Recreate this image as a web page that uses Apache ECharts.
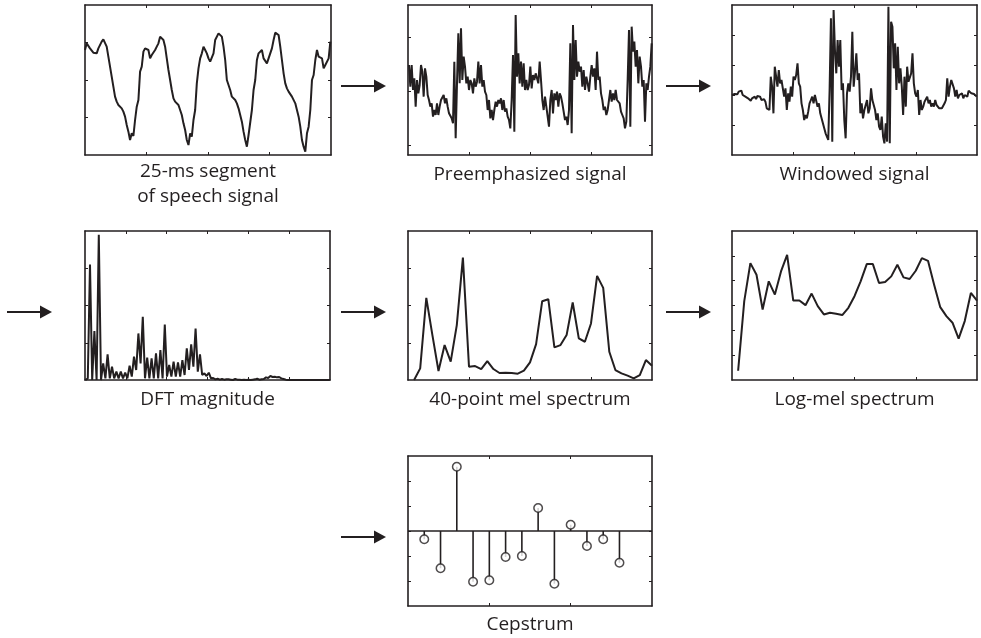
<!DOCTYPE html>
<html>
<head>
<meta charset="utf-8">
<script src="https://cdn.jsdelivr.net/npm/echarts@6/dist/echarts.min.js"></script>
<style>
  html, body { margin: 0; padding: 0; background: #ffffff; }
  #chart { width: 981px; height: 638px; }
</style>
</head>
<body>
<div id="chart"></div>
<script>
// 25-ms frame of voiced speech (raw samples, arbitrary units)
const speechSegment = [
  90,110,105,95,90,82,85,80,95,100,
  115,122,118,100,70,40,10,-20,-50,-65,
  -75,-80,-85,-95,-110,-135,-155,-180,-160,-168,
  -120,-80,-60,25,40,85,95,92,90,65,
  75,70,90,100,110,130,135,120,100,65,
  30,0,-30,-55,-65,-70,-75,-90,-105,-130,
  -150,-180,-195,-160,-170,-120,-90,-10,35,65,
  80,100,90,80,65,55,60,80,120,125,
  140,142,130,100,60,0,-5,-30,-50,-55,
  -60,-70,-85,-105,-125,-155,-180,-200,-165,-170,
  -90,-30,0,60,80,80,90,65,60,50,
  65,80,95,120,142,140,135,100,60,20,
  -10,-25,-35,-40,-50,-55,-70,-90,-110,-140,
  -180,-200,-215,-160,-140,-90,0,15,60,90,
  70,75,65,35,45,50,65,115
];

// Same frame after the pre-emphasis filter
const preemphasized = [
  79,14,79,4,39,-46,34,-6,19,79,
  59,-16,69,44,-11,-26,-46,-36,-76,-56,
  -71,-36,-71,-46,-26,-21,-11,-36,-21,-46,
  -66,-71,-81,-96,89,-141,24,174,24,189,
  34,104,74,24,44,4,34,24,-6,39,
  14,29,89,24,79,14,34,-1,-11,-56,
  -26,-81,-56,-86,-56,-31,-46,-26,-36,-21,
  -56,-26,-61,-51,-76,-86,-111,-26,109,-121,
  229,44,114,24,89,14,84,4,34,4,
  19,74,9,49,34,54,39,24,89,34,
  -26,-56,-16,-46,-76,-106,-26,4,-66,-6,
  -26,-1,-46,-6,-16,-36,-61,-86,-76,-101,
  -56,144,-126,199,34,154,44,89,59,74,
  14,64,4,44,24,-1,44,79,44,69,
  4,119,34,44,-6,-26,-56,-46,-71,-56,
  -26,4,-31,-6,-26,4,-26,-21,-36,-61,
  -71,-81,-111,-91,34,184,-106,194,119,149,
  74,124,24,104,74,14,34,-91,24,4,
  44,74,144
];

// Pre-emphasized frame after the tapering window
const windowed = [
  2,7,5,9,4,12,7,15,2,-1,
  -3,-5,-8,-11,-15,-8,-13,-3,-10,-1,
  -5,-3,-13,-8,-11,-18,-38,-33,-43,57,
  27,-53,87,92,27,77,37,47,42,-3,
  22,-43,7,-18,27,-3,57,47,62,97,
  37,27,-23,-43,-73,-58,-68,-48,-23,-13,
  -3,-23,2,-3,-33,-23,-53,-48,-83,-98,
  -113,-108,-133,17,232,-138,257,137,67,167,
  87,167,17,37,-73,-128,7,37,12,57,
  192,27,72,127,47,67,-53,-23,-68,-43,
  -48,-13,-53,-38,22,-13,-18,-43,-73,-53,
  -93,-103,-63,-123,-143,-83,-138,267,-143,222,
  207,82,157,17,147,37,82,27,-58,57,
  -33,87,42,37,67,127,37,7,-3,17,
  -58,-13,-43,-33,-18,-13,-3,-23,-13,-33,
  -23,-33,-13,-28,-23,-38,-33,-38,-33,-23,
  -13,52,-3,27,47,42,22,-3,17,-8,
  2,-3,7,-8,2,7,-3,15,12,7,
  12,5,2,-3
];

// Magnitude of the DFT (lower half of the bins)
const dftMagnitude = [
  0,5,347,0,147,0,437,0,50,5,
  77,5,40,5,25,5,25,5,22,5,
  43,10,70,30,140,50,190,5,67,5,
  65,5,80,5,90,5,167,10,45,10,
  55,10,53,10,60,15,95,30,107,40,
  155,25,77,15,20,12,22,5,6,2,
  4,1,3,1,2,2,1,0,3,1,
  1,0,1,0,1,0,1,2,4,1,
  2,3,8,6,12,9,10,8,9,5,
  3,1,0,0,0,0,0,0,0,0,
  0,0,0,0,0,0,0,0,0,0,
  0,0
];

// Outputs of the 40 triangular mel filters
const melSpectrum = [
  0,35,247,135,27,105,55,165,368,40,
  42,33,57,33,21,22,21,19,28,53,
  108,237,243,98,105,135,233,125,115,170,
  313,277,85,30,20,13,5,15,60,43
];

// Logarithm of the mel filter outputs (shifted scale)
const logMelSpectrum = [
  28,238,353,318,213,298,258,328,378,240,
  240,226,261,223,198,203,200,196,218,253,
  298,350,350,293,296,313,348,310,305,330,
  368,360,288,220,193,173,125,178,263,240
];

// First 13 cepstral coefficients
const cepstrum = [-0.33,-1.49,2.57,-2.03,-1.97,-1.04,-1.0,0.92,-2.11,0.25,-0.6,-0.33,-1.27];

const captions = [
  '25-ms segment\nof speech signal',
  'Preemphasized signal',
  'Windowed signal',
  'DFT magnitude',
  '40-point mel spectrum',
  'Log-mel spectrum',
  'Cepstrum'
];

const INK = '#231f20';
const FONT = '"Open Sans", "Noto Sans", sans-serif';

// Panel frames: pixel box, axis ranges, tick values
function quarters(min, max, n) {
  const out = [];
  for (let k = 1; k < n; k++) out.push(min + (max - min) * k / n);
  return out;
}
const panels = [
  { box: [85, 5, 246, 150],  x: [0, 147.4],     xt: quarters(0, 147.4, 4),     y: [-225, 225], yt: [-112.5, 0, 112.5] },
  { box: [408, 5, 244, 150], x: [-0.75, 182.25], xt: quarters(-0.75, 182.25, 4), y: [-191, 259], yt: [-161, 0, 161] },
  { box: [732, 5, 245, 150], x: [0, 183.25],    xt: quarters(0, 183.25, 4),    y: [-178, 272], yt: [-90, 0, 90, 180] },
  { box: [85, 231, 245, 149], x: [-0.27, 111.1], xt: quarters(-0.27, 111.1, 6), y: [0, 448],    yt: [112, 224, 336] },
  { box: [408, 231, 244, 149], x: [0, 40],      xt: [10, 20, 30],             y: [0, 448],    yt: [112, 224, 336] },
  { box: [732, 231, 245, 149], x: [0, 40],      xt: [10, 20, 30],             y: [0, 450],    yt: [75, 150, 225, 300, 375] },
  { box: [408, 456, 244, 150], x: [0, 15],      xt: [5, 10],                  y: [-3, 3],     yt: [-2, -1, 0, 1, 2] }
];

const grids = [], xAxes = [], yAxes = [];
function axis(g, pos, range, ticks) {
  return {
    type: 'value', gridIndex: g, position: pos,
    min: range[0], max: range[1],
    axisLine: { show: true, onZero: false, lineStyle: { color: INK, width: 1.6 } },
    axisTick: { show: true, inside: true, length: 3, customValues: ticks, lineStyle: { color: INK, width: 1 } },
    axisLabel: { show: false },
    splitLine: { show: false }
  };
}
panels.forEach((p, g) => {
  grids.push({ left: p.box[0], top: p.box[1], width: p.box[2], height: p.box[3], containLabel: false });
  xAxes.push(axis(g, 'bottom', p.x, p.xt));
  xAxes.push(axis(g, 'top', p.x, p.xt));
  yAxes.push(axis(g, 'left', p.y, p.yt));
  yAxes.push(axis(g, 'right', p.y, p.yt));
});

function trace(g, values, offset) {
  return {
    type: 'line', xAxisIndex: 2 * g, yAxisIndex: 2 * g,
    data: values.map((v, i) => [i + offset, v]),
    showSymbol: false, symbol: 'none', silent: true,
    lineStyle: { color: INK, width: 2 }
  };
}

const series = [
  trace(0, speechSegment, 0),
  trace(1, preemphasized, 0),
  trace(2, windowed, 0),
  trace(3, dftMagnitude, 0),
  trace(4, melSpectrum, 1),
  trace(5, logMelSpectrum, 1),
  {
    // stems from zero to each coefficient
    type: 'custom', xAxisIndex: 12, yAxisIndex: 12, silent: true,
    data: cepstrum.map((v, i) => [i + 1, v]),
    renderItem: function (params, api) {
      const a = api.coord([api.value(0), 0]);
      const b = api.coord([api.value(0), api.value(1)]);
      return { type: 'line', shape: { x1: a[0], y1: a[1], x2: b[0], y2: b[1] },
               style: { stroke: INK, lineWidth: 1.6 } };
    },
    markLine: {
      silent: true, symbol: 'none', label: { show: false },
      lineStyle: { color: INK, width: 1.6, type: 'solid' },
      data: [{ yAxis: 0 }]
    }
  },
  {
    type: 'scatter', xAxisIndex: 12, yAxisIndex: 12, silent: true,
    data: cepstrum.map((v, i) => [i + 1, v]),
    symbol: 'circle', symbolSize: 8.5,
    itemStyle: { color: '#ffffff', borderColor: INK, borderWidth: 1.5 },
    z: 5
  }
];

// Captions under each panel
const captionPos = [[208, 184], [530, 175], [854.5, 175], [207.5, 400], [530, 400], [854.5, 400], [530, 625]];
const graphics = captions.map((t, k) => ({
  type: 'text', x: captionPos[k][0], y: captionPos[k][1], silent: true,
  style: { text: t, fill: INK, fontFamily: FONT, fontSize: 19, lineHeight: 25,
           align: 'center', verticalAlign: 'middle' }
}));

// Flow arrows between processing stages
const arrows = [[341, 386, 86], [666, 711, 86], [7, 52, 312], [341, 386, 312], [666, 711, 312], [341, 386, 537]];
arrows.forEach(a => {
  const [x0, x1, y] = a;
  graphics.push({ type: 'line', silent: true,
    shape: { x1: x0, y1: y, x2: x1 - 10, y2: y }, style: { stroke: INK, lineWidth: 1.8 } });
  graphics.push({ type: 'polygon', silent: true,
    shape: { points: [[x1 - 12, y - 6.5], [x1, y], [x1 - 12, y + 6.5]] }, style: { fill: INK } });
});

const chart = echarts.init(document.getElementById('chart'), null, { renderer: 'canvas' });
chart.setOption({
  animation: false,
  backgroundColor: '#ffffff',
  grid: grids,
  xAxis: xAxes,
  yAxis: yAxes,
  series: series,
  graphic: graphics
});
</script>
</body>
</html>
